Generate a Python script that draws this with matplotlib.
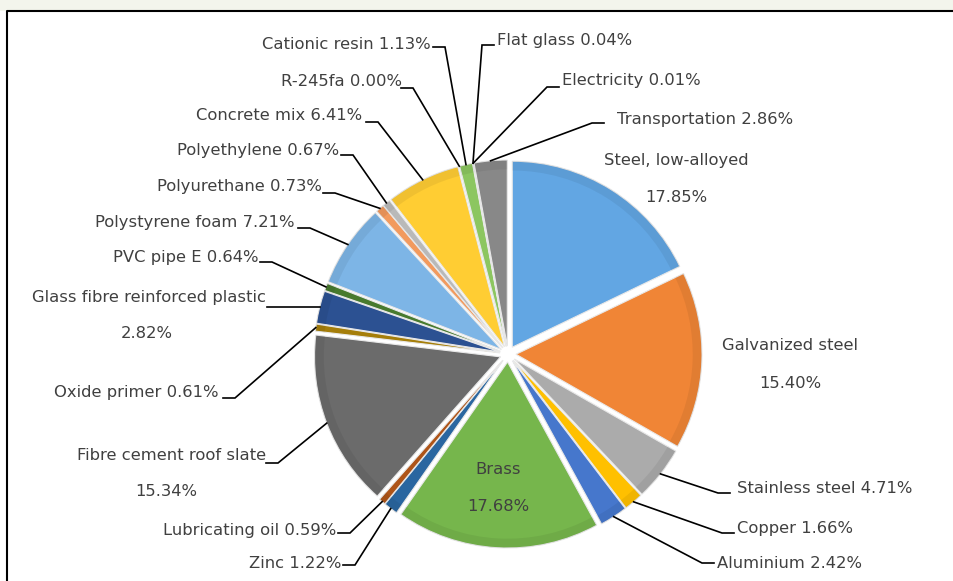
import numpy as np
import matplotlib
matplotlib.use("Agg")
import matplotlib.pyplot as plt
from matplotlib.patches import Rectangle, Wedge

W, H = 954, 581

# data (clockwise from 12 o'clock)
materials = ["Steel, low-alloyed", "Galvanized steel", "Stainless steel", "Copper",
             "Aluminium", "Brass", "Zinc", "Lubricating oil", "Fibre cement roof slate",
             "Oxide primer", "Glass fibre reinforced plastic", "PVC pipe E",
             "Polystyrene foam", "Polyurethane", "Polyethylene", "Concrete mix",
             "R-245fa", "Cationic resin", "Flat glass", "Electricity", "Transportation"]
shares = [17.85, 15.40, 4.71, 1.66, 2.42, 17.68, 1.22, 0.59, 15.34, 0.61, 2.82, 0.64,
          7.21, 0.73, 0.67, 6.41, 0.00, 1.13, 0.04, 0.01, 2.86]
colors = ["#62A6E3", "#F08536", "#ABABAB", "#FFC000", "#4677CC", "#76B64C",
          "#2A66A0", "#AE5418", "#6B6B6B", "#A57E0A", "#2C5192", "#487A2E",
          "#7DB5E6", "#F29A5E", "#B9B9B9", "#FFCD33", "#6F93D6", "#8CC660",
          "#3A80C4", "#DC6A22", "#888888"]

# label layout in image pixels: text x, text y, alignment, elbow of leader (or None)
label_pos = {
    "Steel, low-alloyed": (676, 160, "center", None),
    "Galvanized steel": (790, 346, "center", None),
    "Brass": (498, 470, "center", None),
    "Fibre cement roof slate": (266, 455, "right", (278, 463)),
    "Glass fibre reinforced plastic": (266, 297, "right", "flat"),
    "Stainless steel": (737, 489, "left", (718, 493)),
    "Copper": (737, 528, "left", (722, 533)),
    "Aluminium": (717, 563, "left", (702, 563)),
    "Zinc": (341, 563, "right", (355, 565)),
    "Lubricating oil": (336, 530, "right", (350, 533)),
    "Oxide primer": (219, 393, "right", (235, 398)),
    "PVC pipe E": (259, 257, "right", (272, 262)),
    "Polystyrene foam": (295, 222, "right", (310, 228)),
    "Polyurethane": (322, 186, "right", (335, 193)),
    "Polyethylene": (339, 150, "right", (353, 155)),
    "Concrete mix": (362, 115, "right", (378, 122)),
    "R-245fa": (402, 81, "right", (413, 88)),
    "Cationic resin": (431, 44, "right", (445, 47)),
    "Flat glass": (497, 40, "left", (482, 45)),
    "Electricity": (562, 80, "left", (547, 87)),
    "Transportation": (617, 119, "left", (592, 123)),
}
two_line = ["Steel, low-alloyed", "Galvanized steel", "Brass",
            "Fibre cement roof slate", "Glass fibre reinforced plastic"]

def Y(y):
    return H - y

fig = plt.figure(figsize=(W / 100, H / 100), dpi=100)
ax = fig.add_axes([0, 0, 1, 1])

cx, cy, R, gap = 508, 354, 186, 8
wedges, _ = ax.pie(shares, colors=colors, startangle=90, counterclock=False,
                   radius=R, center=(cx, Y(cy)), explode=[gap] * len(shares),
                   wedgeprops=dict(edgecolor="#e8e8e8", linewidth=0.8))

# soft darker rim to hint at the bevel
for w in wedges:
    if w.theta2 - w.theta1 < 0.01:
        continue
    rim = Wedge(w.center, w.r, w.theta1, w.theta2, width=w.r * 0.05,
                facecolor="black", alpha=0.06, edgecolor="none")
    ax.add_patch(rim)

txt_col = "#404040"
fs = 11.8
for w, name, val in zip(wedges, materials, shares):
    tx, ty, ha, elbow = label_pos[name]
    pct = f"{val:.2f}%"
    if name in two_line:
        if ha == "right":
            left = 27 if name.startswith("Glass") else 67
            ax.text(tx, Y(ty), name, ha="right", va="center", fontsize=fs, color=txt_col)
            ax.text((tx + left) / 2, Y(ty + 37), pct, ha="center", va="center",
                    fontsize=fs, color=txt_col)
        else:
            ax.text(tx, Y(ty), name, ha="center", va="center", fontsize=fs, color=txt_col)
            ax.text(tx, Y(ty + 37), pct, ha="center", va="center", fontsize=fs, color=txt_col)
    else:
        ax.text(tx, Y(ty), f"{name} {pct}", ha=ha, va="center", fontsize=fs, color=txt_col)
    if elbow is None:
        continue
    ang = np.deg2rad((w.theta1 + w.theta2) / 2)
    px = w.center[0] + w.r * np.cos(ang)
    py = w.center[1] + w.r * np.sin(ang)
    if elbow == "flat":
        ax.plot([tx + 1, px], [py, py], color="black", lw=1.2)
        continue
    ex, ey = elbow
    end_x = ex - 12 if ha == "right" else ex + 12
    ax.plot([px, ex, end_x], [py, Y(ey), Y(ey)], color="black", lw=1.2,
            solid_joinstyle="miter")

# outer frame and top strip
ax.add_patch(Rectangle((0, Y(11)), W, 11, facecolor="#f3f5ec", edgecolor="none", zorder=0))
ax.plot([7, 7, W], [0, Y(11), Y(11)], color="black", lw=1.5)

ax.set_xlim(0, W)
ax.set_ylim(0, H)
ax.set_aspect("equal")
ax.axis("off")
fig.savefig("out.png", dpi=100)
